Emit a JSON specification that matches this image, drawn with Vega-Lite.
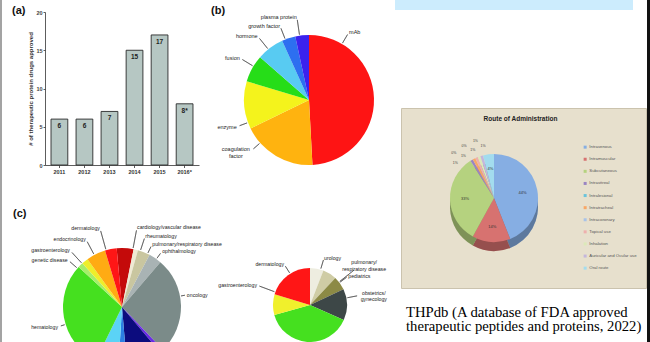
{
"$schema":"https://vega.github.io/schema/vega-lite/v6.json",
"padding":0,
"background":"#ffffff",
"config":{"view":{"stroke":null},"font":"Liberation Sans"},
"spacing":0,
"resolve":{"scale":{"theta":"independent","color":"independent"},"legend":{"color":"independent"}},
"hconcat":[
{"width":2,"height":342,"data":{"values":[{}]},"mark":{"type":"rect","color":"#a3a3a3"},"encoding":{}},
{"spacing":0,
 "resolve":{"scale":{"theta":"independent","color":"independent"},"legend":{"color":"independent"}},
 "vconcat":[
 {"spacing":0,
  "resolve":{"scale":{"theta":"independent","color":"independent"},"legend":{"color":"independent"}},
  "hconcat":[
  {"width":25,"height":187,"title":{"text":"(a)","anchor":"start","frame":"group","offset":0,"dx":10,"dy":16,"fontSize":11,"fontWeight":"bold","color":"#111"},"data":{"values":[{}]},"mark":{"type":"rect","opacity":0},"encoding":{}},
  {"spacing":0,
   "vconcat":[
   {"width":154,"height":10,"data":{"values":[{}]},"mark":{"type":"rect","opacity":0},"encoding":{}},
   {"width":154,"height":153,
    "data":{"values":[
     {"year":"2011","count":6,"label":"6"},
     {"year":"2012","count":6,"label":"6"},
     {"year":"2013","count":7,"label":"7"},
     {"year":"2014","count":15,"label":"15"},
     {"year":"2015","count":17,"label":"17"},
     {"year":"2016*","count":8,"label":"8*"}]},
    "encoding":{
     "x":{"field":"year","type":"ordinal","sort":null,"scale":{"paddingInner":0.33,"paddingOuter":0.24},
      "axis":{"title":null,"labelAngle":0,"labelFontSize":5.5,"labelFontWeight":"bold","labelColor":"#333","tickSize":2.5,"tickColor":"#333","domainColor":"#333","labelPadding":1.5,"domainWidth":0.8,"tickWidth":0.8}},
     "y":{"field":"count","type":"quantitative","scale":{"domain":[0,20]},
      "axis":{"values":[0,5,10,15,20],"title":"# of therapeutic protein drugs approved","titleFontSize":6,"titleFontWeight":"bold","titleColor":"#333","titlePadding":2,"labelFontSize":5.5,"labelFontWeight":"bold","labelColor":"#444","tickSize":2,"labelPadding":1,"grid":false,"domainColor":"#333","tickColor":"#333","domainWidth":0.8,"tickWidth":0.8}}},
    "layer":[
     {"mark":{"type":"bar","fill":"#b6c7c3","stroke":"#2a2a2a","strokeWidth":0.9}},
     {"mark":{"type":"text","dy":7,"baseline":"middle","fontSize":6.5,"fontWeight":"bold","color":"#222"},"encoding":{"text":{"field":"label"}}}
    ]}
   ]},
  {"width":8,"height":1,"data":{"values":[{}]},"mark":{"type":"rect","opacity":0},"encoding":{}},
  {"width":167,"height":187,
   "title":{"text":"(b)","anchor":"start","frame":"group","offset":0,"dx":4,"dy":16,"fontSize":11,"fontWeight":"bold","color":"#111"},
   "data":{"values":[
    {"cat":"mAb","n":29},{"cat":"coagulation factor","n":11},{"cat":"enzyme","n":7},{"cat":"fusion","n":4},{"cat":"hormone","n":4},{"cat":"growth factor","n":2},{"cat":"plasma protein","n":2}]},
   "transform":[{"window":[{"op":"row_number","as":"k"}]},{"stack":"n","groupby":[],"sort":[{"field":"k","order":"ascending"}],"as":["n0","n1"]}],
   "encoding":{"theta":{"field":"n","type":"quantitative","stack":true},"order":{"field":"k","type":"quantitative"}},
   "layer":[
    {"mark":{"type":"arc","outerRadius":65,"xOffset":18.5,"yOffset":6.5},"encoding":{"color":{"field":"cat","type":"nominal","scale":{"domain":["mAb","coagulation factor","enzyme","fusion","hormone","growth factor","plasma protein"],"range":["#fe1414","#ffb30f","#f4f31c","#26dd18","#58cbf2","#2d6ff0","#3b22ee"]},"legend":null}}},
    {"mark":{"type":"arc","innerRadius":66,"outerRadius":76,"thetaOffset":0.532,"theta2Offset":0.532,"xOffset":18.5,"yOffset":6.5,"fillOpacity":0,"stroke":"#333","strokeWidth":0.5},"encoding":{"theta":{"field":"n0","type":"quantitative"},"theta2":{"field":"n0"},"strokeOpacity":{"condition":{"test":"datum.cat==='mAb'","value":1},"value":0}}},
    {"mark":{"type":"arc","innerRadius":66,"outerRadius":74,"thetaOffset":0.903,"theta2Offset":0.903,"xOffset":18.5,"yOffset":6.5,"fillOpacity":0,"stroke":"#333","strokeWidth":0.5},"encoding":{"theta":{"field":"n0","type":"quantitative"},"theta2":{"field":"n0"},"strokeOpacity":{"condition":{"test":"datum.cat==='coagulation factor'","value":1},"value":0}}},
    {"mark":{"type":"arc","innerRadius":66,"outerRadius":74,"thetaOffset":0.098,"theta2Offset":0.098,"xOffset":18.5,"yOffset":6.5,"fillOpacity":0,"stroke":"#333","strokeWidth":0.5},"encoding":{"theta":{"field":"n0","type":"quantitative"},"theta2":{"field":"n0"},"strokeOpacity":{"condition":{"test":"datum.cat==='enzyme'","value":1},"value":0}}},
    {"mark":{"type":"arc","innerRadius":66,"outerRadius":78,"thetaOffset":0.253,"theta2Offset":0.253,"xOffset":18.5,"yOffset":6.5,"fillOpacity":0,"stroke":"#333","strokeWidth":0.5},"encoding":{"theta":{"field":"n0","type":"quantitative"},"theta2":{"field":"n0"},"strokeOpacity":{"condition":{"test":"datum.cat==='fusion'","value":1},"value":0}}},
    {"mark":{"type":"arc","innerRadius":66,"outerRadius":79,"thetaOffset":0.175,"theta2Offset":0.175,"xOffset":18.5,"yOffset":6.5,"fillOpacity":0,"stroke":"#333","strokeWidth":0.5},"encoding":{"theta":{"field":"n0","type":"quantitative"},"theta2":{"field":"n0"},"strokeOpacity":{"condition":{"test":"datum.cat==='hormone'","value":1},"value":0}}},
    {"mark":{"type":"arc","innerRadius":66,"outerRadius":77,"thetaOffset":0.053,"theta2Offset":0.053,"xOffset":18.5,"yOffset":6.5,"fillOpacity":0,"stroke":"#333","strokeWidth":0.5},"encoding":{"theta":{"field":"n0","type":"quantitative"},"theta2":{"field":"n0"},"strokeOpacity":{"condition":{"test":"datum.cat==='growth factor'","value":1},"value":0}}},
    {"mark":{"type":"arc","innerRadius":66,"outerRadius":81,"thetaOffset":0.068,"theta2Offset":0.068,"xOffset":18.5,"yOffset":6.5,"fillOpacity":0,"stroke":"#333","strokeWidth":0.5},"encoding":{"theta":{"field":"n0","type":"quantitative"},"theta2":{"field":"n0"},"strokeOpacity":{"condition":{"test":"datum.cat==='plasma protein'","value":1},"value":0}}},
    {"mark":{"type":"text","radius":79,"thetaOffset":-1.012,"xOffset":18.5,"yOffset":6.5,"align":"left","baseline":"middle","fontSize":5.5,"color":"#222"},"encoding":{"text":{"condition":{"test":"datum.cat==='mAb'","value":"mAb"},"value":""}}},
    {"mark":{"type":"text","radius":88,"thetaOffset":0.449,"xOffset":18.5,"yOffset":6.5,"align":"center","baseline":"middle","fontSize":5.5,"lineHeight":7,"color":"#222"},"encoding":{"text":{"condition":{"test":"datum.cat==='coagulation factor'","value":["coagulation","factor"]},"value":""}}},
    {"mark":{"type":"text","radius":77,"thetaOffset":-0.274,"xOffset":18.5,"yOffset":6.5,"align":"right","baseline":"middle","fontSize":5.5,"color":"#222"},"encoding":{"text":{"condition":{"test":"datum.cat==='enzyme'","value":"enzyme"},"value":""}}},
    {"mark":{"type":"text","radius":81,"thetaOffset":0.04,"xOffset":18.5,"yOffset":6.5,"align":"right","baseline":"middle","fontSize":5.5,"color":"#222"},"encoding":{"text":{"condition":{"test":"datum.cat==='fusion'","value":"fusion"},"value":""}}},
    {"mark":{"type":"text","radius":82,"thetaOffset":-0.038,"xOffset":18.5,"yOffset":6.5,"align":"right","baseline":"middle","fontSize":5.5,"color":"#222"},"encoding":{"text":{"condition":{"test":"datum.cat==='hormone'","value":"hormone"},"value":""}}},
    {"mark":{"type":"text","radius":79.5,"thetaOffset":-0.054,"xOffset":18.5,"yOffset":6.5,"align":"right","baseline":"middle","fontSize":5.5,"color":"#222"},"encoding":{"text":{"condition":{"test":"datum.cat==='growth factor'","value":"growth factor"},"value":""}}},
    {"mark":{"type":"text","radius":84,"thetaOffset":-0.038,"xOffset":18.5,"yOffset":6.5,"align":"right","baseline":"middle","fontSize":5.5,"color":"#222"},"encoding":{"text":{"condition":{"test":"datum.cat==='plasma protein'","value":"plasma protein"},"value":""}}}
   ]}
  ]},
 {"width":393,"height":155,
  "title":{"text":"(c)","anchor":"start","frame":"group","offset":0,"dx":11,"dy":32,"fontSize":11,"fontWeight":"bold","color":"#111"},
  "resolve":{"scale":{"theta":"independent","color":"independent"}},
  "layer":[
   {"data":{"values":[
     {"area":"cardiology/vascular disease","p":4.6},
     {"area":"rheumatology","p":1.2},
     {"area":"pulmonary/respiratory disease","p":3.4},
     {"area":"ophthalmology","p":3.5},
     {"area":"oncology","p":26.6},
     {"area":"neurology","p":1.0},
     {"area":"infectious disease","p":9.8},
     {"area":"immunology","p":2.3},
     {"area":"nephrology","p":6.3},
     {"area":"hematology","p":29.6},
     {"area":"genetic disease","p":1.4},
     {"area":"gastroenterology","p":1.8},
     {"area":"endocrinology","p":5.3},
     {"area":"dermatology","p":3.2}]},
    "transform":[{"window":[{"op":"row_number","as":"k"}]},{"stack":"p","groupby":[],"sort":[{"field":"k","order":"ascending"}],"as":["p0","p1"]}],
    "encoding":{"theta":{"field":"p","type":"quantitative","stack":true,"scale":{"range":[-0.0908,6.1924]}},"order":{"field":"k","type":"quantitative"}},
    "layer":[
     {"mark":{"type":"arc","outerRadius":59,"xOffset":-76.5,"yOffset":42.5,"clip":true},"encoding":{"color":{"field":"area","type":"nominal","scale":{"domain":["cardiology/vascular disease","rheumatology","pulmonary/respiratory disease","ophthalmology","oncology","neurology","infectious disease","immunology","nephrology","hematology","genetic disease","gastroenterology","endocrinology","dermatology"],"range":["#c40a0a","#efe9d3","#c9c6a0","#a9b3b4","#7b8b89","#6a2ae6","#0c0c7e","#2b7fe3","#5bd3f6","#45e01f","#a6ee6a","#eeee2a","#ffab13","#ff1616"]},"legend":null}}},
     {"mark":{"type":"arc","innerRadius":60,"outerRadius":78,"thetaOffset":0.2775,"theta2Offset":0.2775,"xOffset":-76.5,"yOffset":42.5,"clip":true,"fillOpacity":0,"stroke":"#333","strokeWidth":0.5},"encoding":{"theta":{"field":"p0","type":"quantitative"},"theta2":{"field":"p0"},"strokeOpacity":{"condition":{"test":"datum.area==='cardiology/vascular disease'","value":1},"value":0}}},
     {"mark":{"type":"arc","innerRadius":60,"outerRadius":72,"thetaOffset":0.1176,"theta2Offset":0.1176,"xOffset":-76.5,"yOffset":42.5,"clip":true,"fillOpacity":0,"stroke":"#333","strokeWidth":0.5},"encoding":{"theta":{"field":"p0","type":"quantitative"},"theta2":{"field":"p0"},"strokeOpacity":{"condition":{"test":"datum.area==='rheumatology'","value":1},"value":0}}},
     {"mark":{"type":"arc","innerRadius":60,"outerRadius":67,"thetaOffset":0.1738,"theta2Offset":0.1738,"xOffset":-76.5,"yOffset":42.5,"clip":true,"fillOpacity":0,"stroke":"#333","strokeWidth":0.5},"encoding":{"theta":{"field":"p0","type":"quantitative"},"theta2":{"field":"p0"},"strokeOpacity":{"condition":{"test":"datum.area==='pulmonary/respiratory disease'","value":1},"value":0}}},
     {"mark":{"type":"arc","innerRadius":60,"outerRadius":66,"thetaOffset":0.135,"theta2Offset":0.135,"xOffset":-76.5,"yOffset":42.5,"clip":true,"fillOpacity":0,"stroke":"#333","strokeWidth":0.5},"encoding":{"theta":{"field":"p0","type":"quantitative"},"theta2":{"field":"p0"},"strokeOpacity":{"condition":{"test":"datum.area==='ophthalmology'","value":1},"value":0}}},
     {"mark":{"type":"arc","innerRadius":60,"outerRadius":64,"thetaOffset":0.6786,"theta2Offset":0.6786,"xOffset":-76.5,"yOffset":42.5,"clip":true,"fillOpacity":0,"stroke":"#333","strokeWidth":0.5},"encoding":{"theta":{"field":"p0","type":"quantitative"},"theta2":{"field":"p0"},"strokeOpacity":{"condition":{"test":"datum.area==='oncology'","value":1},"value":0}}},
     {"mark":{"type":"arc","innerRadius":60,"outerRadius":79,"thetaOffset":0.0185,"theta2Offset":0.0185,"xOffset":-76.5,"yOffset":42.5,"clip":true,"fillOpacity":0,"stroke":"#333","strokeWidth":0.5},"encoding":{"theta":{"field":"p0","type":"quantitative"},"theta2":{"field":"p0"},"strokeOpacity":{"condition":{"test":"datum.area==='dermatology'","value":1},"value":0}}},
     {"mark":{"type":"arc","innerRadius":60,"outerRadius":74,"thetaOffset":0.1354,"theta2Offset":0.1354,"xOffset":-76.5,"yOffset":42.5,"clip":true,"fillOpacity":0,"stroke":"#333","strokeWidth":0.5},"encoding":{"theta":{"field":"p0","type":"quantitative"},"theta2":{"field":"p0"},"strokeOpacity":{"condition":{"test":"datum.area==='endocrinology'","value":1},"value":0}}},
     {"mark":{"type":"arc","innerRadius":60,"outerRadius":74,"thetaOffset":-0.0045,"theta2Offset":-0.0045,"xOffset":-76.5,"yOffset":42.5,"clip":true,"fillOpacity":0,"stroke":"#333","strokeWidth":0.5},"encoding":{"theta":{"field":"p0","type":"quantitative"},"theta2":{"field":"p0"},"strokeOpacity":{"condition":{"test":"datum.area==='gastroenterology'","value":1},"value":0}}},
     {"mark":{"type":"arc","innerRadius":60,"outerRadius":69,"thetaOffset":-0.0293,"theta2Offset":-0.0293,"xOffset":-76.5,"yOffset":42.5,"clip":true,"fillOpacity":0,"stroke":"#333","strokeWidth":0.5},"encoding":{"theta":{"field":"p0","type":"quantitative"},"theta2":{"field":"p0"},"strokeOpacity":{"condition":{"test":"datum.area==='genetic disease'","value":1},"value":0}}},
     {"mark":{"type":"arc","innerRadius":60,"outerRadius":64,"thetaOffset":0.815,"theta2Offset":0.815,"xOffset":-76.5,"yOffset":42.5,"clip":true,"fillOpacity":0,"stroke":"#333","strokeWidth":0.5},"encoding":{"theta":{"field":"p0","type":"quantitative"},"theta2":{"field":"p0"},"strokeOpacity":{"condition":{"test":"datum.area==='hematology'","value":1},"value":0}}},
     {"mark":{"type":"text","radius":81,"thetaOffset":0.133,"align":"left","baseline":"middle","fontSize":5.2,"color":"#222","xOffset":-76.5,"yOffset":42.5,"clip":true},"encoding":{"text":{"condition":{"test":"datum.area==='cardiology/vascular disease'","value":"cardiology/vascular disease"},"value":""}}},
     {"mark":{"type":"text","radius":75,"thetaOffset":0.08,"align":"left","baseline":"middle","fontSize":5.2,"color":"#222","xOffset":-76.5,"yOffset":42.5,"clip":true},"encoding":{"text":{"condition":{"test":"datum.area==='rheumatology'","value":"rheumatology"},"value":""}}},
     {"mark":{"type":"text","radius":70,"thetaOffset":0.067,"align":"left","baseline":"middle","fontSize":5.2,"color":"#222","xOffset":-76.5,"yOffset":42.5,"clip":true},"encoding":{"text":{"condition":{"test":"datum.area==='pulmonary/respiratory disease'","value":"pulmonary/respiratory disease"},"value":""}}},
     {"mark":{"type":"text","radius":69,"thetaOffset":0.025,"align":"left","baseline":"middle","fontSize":5.2,"color":"#222","xOffset":-76.5,"yOffset":42.5,"clip":true},"encoding":{"text":{"condition":{"test":"datum.area==='ophthalmology'","value":"ophthalmology"},"value":""}}},
     {"mark":{"type":"text","radius":66,"thetaOffset":-0.157,"align":"left","baseline":"middle","fontSize":5.2,"color":"#222","xOffset":-76.5,"yOffset":42.5,"clip":true},"encoding":{"text":{"condition":{"test":"datum.area==='oncology'","value":"oncology"},"value":""}}},
     {"mark":{"type":"text","radius":82,"thetaOffset":-0.082,"align":"right","baseline":"middle","fontSize":5.2,"color":"#222","xOffset":-76.5,"yOffset":42.5,"clip":true},"encoding":{"text":{"condition":{"test":"datum.area==='dermatology'","value":"dermatology"},"value":""}}},
     {"mark":{"type":"text","radius":77,"thetaOffset":-0.031,"align":"right","baseline":"middle","fontSize":5.2,"color":"#222","xOffset":-76.5,"yOffset":42.5,"clip":true},"encoding":{"text":{"condition":{"test":"datum.area==='endocrinology'","value":"endocrinology"},"value":""}}},
     {"mark":{"type":"text","radius":77,"thetaOffset":-0.061,"align":"right","baseline":"middle","fontSize":5.2,"color":"#222","xOffset":-76.5,"yOffset":42.5,"clip":true},"encoding":{"text":{"condition":{"test":"datum.area==='gastroenterology'","value":"gastroenterology"},"value":""}}},
     {"mark":{"type":"text","radius":72,"thetaOffset":-0.073,"align":"right","baseline":"middle","fontSize":5.2,"color":"#222","xOffset":-76.5,"yOffset":42.5,"clip":true},"encoding":{"text":{"condition":{"test":"datum.area==='genetic disease'","value":"genetic disease"},"value":""}}},
     {"mark":{"type":"text","radius":67,"thetaOffset":-0.115,"align":"right","baseline":"middle","fontSize":5.2,"color":"#222","xOffset":-76.5,"yOffset":42.5,"clip":true},"encoding":{"text":{"condition":{"test":"datum.area==='hematology'","value":"hematology"},"value":""}}}
    ]},
   {"data":{"values":[
     {"area":"urology","p":5.9},
     {"area":"pulmonary/respiratory disease","p":6.1},
     {"area":"pediatrics","p":6.0},
     {"area":"obstetrics/gynecology","p":13.7},
     {"area":"hematology","p":39.0},
     {"area":"gastroenterology","p":9.0},
     {"area":"dermatology","p":20.3}]},
    "transform":[{"window":[{"op":"row_number","as":"k"}]},{"stack":"p","groupby":[],"sort":[{"field":"k","order":"ascending"}],"as":["p0","p1"]}],
    "encoding":{"theta":{"field":"p","type":"quantitative","stack":true},"order":{"field":"k","type":"quantitative"}},
    "layer":[
     {"mark":{"type":"arc","outerRadius":37,"xOffset":111.5,"yOffset":40.5,"clip":true},"encoding":{"color":{"field":"area","type":"nominal","scale":{"domain":["urology","pulmonary/respiratory disease","pediatrics","obstetrics/gynecology","hematology","gastroenterology","dermatology"],"range":["#eeede0","#cfcca5","#8c8a45","#3d4747","#45e01f","#f0f02c","#ff1616"]},"legend":null}}},
     {"mark":{"type":"arc","innerRadius":38,"outerRadius":46,"thetaOffset":0.71,"theta2Offset":0.71,"xOffset":111.5,"yOffset":40.5,"clip":true,"fillOpacity":0,"stroke":"#333","strokeWidth":0.5},"encoding":{"theta":{"field":"p0","type":"quantitative"},"theta2":{"field":"p0"},"strokeOpacity":{"condition":{"test":"datum.area==='dermatology'","value":1},"value":0}}},
     {"mark":{"type":"arc","innerRadius":38,"outerRadius":54,"thetaOffset":0.628,"theta2Offset":0.628,"xOffset":111.5,"yOffset":40.5,"clip":true,"fillOpacity":0,"stroke":"#333","strokeWidth":0.5},"encoding":{"theta":{"field":"p0","type":"quantitative"},"theta2":{"field":"p0"},"strokeOpacity":{"condition":{"test":"datum.area==='gastroenterology'","value":1},"value":0}}},
     {"mark":{"type":"arc","innerRadius":38,"outerRadius":47,"thetaOffset":0.29,"theta2Offset":0.29,"xOffset":111.5,"yOffset":40.5,"clip":true,"fillOpacity":0,"stroke":"#333","strokeWidth":0.5},"encoding":{"theta":{"field":"p0","type":"quantitative"},"theta2":{"field":"p0"},"strokeOpacity":{"condition":{"test":"datum.area==='urology'","value":1},"value":0}}},
     {"mark":{"type":"arc","innerRadius":38,"outerRadius":56,"thetaOffset":0.53,"theta2Offset":0.53,"xOffset":111.5,"yOffset":40.5,"clip":true,"fillOpacity":0,"stroke":"#333","strokeWidth":0.5},"encoding":{"theta":{"field":"p0","type":"quantitative"},"theta2":{"field":"p0"},"strokeOpacity":{"condition":{"test":"datum.area==='pulmonary/respiratory disease'","value":1},"value":0}}},
     {"mark":{"type":"arc","innerRadius":38,"outerRadius":46,"thetaOffset":0.168,"theta2Offset":0.168,"xOffset":111.5,"yOffset":40.5,"clip":true,"fillOpacity":0,"stroke":"#333","strokeWidth":0.5},"encoding":{"theta":{"field":"p0","type":"quantitative"},"theta2":{"field":"p0"},"strokeOpacity":{"condition":{"test":"datum.area==='pediatrics'","value":1},"value":0}}},
     {"mark":{"type":"arc","innerRadius":38,"outerRadius":48,"thetaOffset":0.248,"theta2Offset":0.248,"xOffset":111.5,"yOffset":40.5,"clip":true,"fillOpacity":0,"stroke":"#333","strokeWidth":0.5},"encoding":{"theta":{"field":"p0","type":"quantitative"},"theta2":{"field":"p0"},"strokeOpacity":{"condition":{"test":"datum.area==='obstetrics/gynecology'","value":1},"value":0}}},
     {"mark":{"type":"text","radius":48.5,"thetaOffset":0.072,"align":"right","baseline":"middle","fontSize":5.2,"color":"#222","xOffset":111.5,"yOffset":40.5,"clip":true},"encoding":{"text":{"condition":{"test":"datum.area==='dermatology'","value":"dermatology"},"value":""}}},
     {"mark":{"type":"text","radius":56.6,"thetaOffset":0.346,"align":"right","baseline":"middle","fontSize":5.2,"color":"#222","xOffset":111.5,"yOffset":40.5,"clip":true},"encoding":{"text":{"condition":{"test":"datum.area==='gastroenterology'","value":"gastroenterology"},"value":""}}},
     {"mark":{"type":"text","radius":49,"thetaOffset":0.105,"align":"left","baseline":"middle","fontSize":5.2,"color":"#222","xOffset":111.5,"yOffset":40.5,"clip":true},"encoding":{"text":{"condition":{"test":"datum.area==='urology'","value":"urology"},"value":""}}},
     {"mark":{"type":"text","radius":69,"thetaOffset":0.339,"align":"center","baseline":"middle","fontSize":5.2,"lineHeight":6.5,"color":"#222","xOffset":111.5,"yOffset":40.5,"clip":true},"encoding":{"text":{"condition":{"test":"datum.area==='pulmonary/respiratory disease'","value":["pulmonary/","respiratory disease"]},"value":""}}},
     {"mark":{"type":"text","radius":48,"thetaOffset":-0.02,"align":"left","baseline":"middle","fontSize":5.2,"color":"#222","xOffset":111.5,"yOffset":40.5,"clip":true},"encoding":{"text":{"condition":{"test":"datum.area==='pediatrics'","value":"pediatrics"},"value":""}}},
     {"mark":{"type":"text","radius":65,"thetaOffset":-0.182,"align":"center","baseline":"middle","fontSize":5.2,"lineHeight":6.5,"color":"#222","xOffset":111.5,"yOffset":40.5,"clip":true},"encoding":{"text":{"condition":{"test":"datum.area==='obstetrics/gynecology'","value":["obstetrics/","gynecology"]},"value":""}}}
    ]}
  ]}
 ]},
{"spacing":0,
 "resolve":{"scale":{"theta":"independent","color":"independent"},"legend":{"color":"independent"}},
 "vconcat":[
 {"width":238,"height":10,"data":{"values":[{}]},"mark":{"type":"rect","color":"#ccecfd"},"encoding":{}},
 {"width":1,"height":97,"data":{"values":[{}]},"mark":{"type":"rect","opacity":0},"encoding":{}},
 {"spacing":0,
  "resolve":{"scale":{"theta":"independent","color":"independent"},"legend":{"color":"independent"}},
  "hconcat":[
  {"width":5,"height":1,"data":{"values":[{}]},"mark":{"type":"rect","opacity":0},"encoding":{}},
  {"width":245,"height":180,
   "view":{"fill":"#e7e0cd","stroke":"#cbc3ae"},
   "title":{"text":"Route of Administration","anchor":"middle","frame":"group","offset":0,"dy":14,"dx":-3,"fontSize":6.5,"fontWeight":"bold","color":"#222"},
   "data":{"values":[
    {"cat":"Intravenous","share":44,"label":"44%"},
    {"cat":"Intramuscular","share":14,"label":"14%"},
    {"cat":"Subcutaneous","share":33,"label":"33%"},
    {"cat":"Intravitreal","share":1,"label":"1%"},
    {"cat":"Intralesional","share":0,"label":"0%"},
    {"cat":"Intratracheal","share":1,"label":"1%"},
    {"cat":"Intracoronary","share":0,"label":"0%"},
    {"cat":"Topical use","share":1,"label":"1%"},
    {"cat":"Inhalation","share":1,"label":"1%"},
    {"cat":"Auricular and Ocular use","share":1,"label":"1%"},
    {"cat":"Oral route","share":4,"label":"4%"}]},
   "transform":[{"window":[{"op":"row_number","as":"k"}]}],
   "encoding":{"theta":{"field":"share","type":"quantitative","stack":true},"order":{"field":"k","type":"quantitative"}},
   "layer":[
    {"mark":{"type":"arc","outerRadius":44,"xOffset":-29.5,"yOffset":9},"encoding":{"color":{"field":"cat","type":"nominal","scale":{"domain":["Intravenous","Intramuscular","Subcutaneous","Intravitreal","Intralesional","Intratracheal","Intracoronary","Topical use","Inhalation","Auricular and Ocular use","Oral route"],"range":["#86aee3","#d77270","#b5d27f","#9a84c2","#6ac3db","#f8a766","#a8c3e8","#eeb0ae","#dce9b9","#c4b6dc","#a3dcee"]},"legend":{"orient":"none","legendX":182,"legendY":37,"title":null,"symbolType":"square","symbolSize":9,"symbolStrokeWidth":0,"labelFontSize":4.3,"labelColor":"#555","rowPadding":7.1,"padding":0,"labelOffset":2,"labelLimit":200}}}},
    {"mark":{"type":"arc","outerRadius":44,"xOffset":-29.5,"yOffset":9,"fill":"#000000","opacity":0.3}},
    {"mark":{"type":"arc","outerRadius":44,"xOffset":-29.5},"encoding":{"color":{"field":"cat","type":"nominal"}}},
    {"mark":{"type":"text","radius":29,"xOffset":-29.5,"fontSize":4,"color":"#333","baseline":"middle"},"encoding":{"text":{"condition":{"test":"datum.share>=4","field":"label"},"value":""}}},
    {"mark":{"type":"text","radius":52,"thetaOffset":-0.304,"xOffset":-29.5,"fontSize":3.5,"color":"#444","baseline":"middle"},"encoding":{"text":{"condition":{"test":"datum.cat==='Intravitreal'","field":"label"},"value":""}}},
    {"mark":{"type":"text","radius":60,"thetaOffset":-0.23,"xOffset":-29.5,"fontSize":3.5,"color":"#444","baseline":"middle"},"encoding":{"text":{"condition":{"test":"datum.cat==='Intralesional'","field":"label"},"value":""}}},
    {"mark":{"type":"text","radius":52,"thetaOffset":-0.157,"xOffset":-29.5,"fontSize":3.5,"color":"#444","baseline":"middle"},"encoding":{"text":{"condition":{"test":"datum.cat==='Intratracheal'","field":"label"},"value":""}}},
    {"mark":{"type":"text","radius":60,"thetaOffset":-0.084,"xOffset":-29.5,"fontSize":3.5,"color":"#444","baseline":"middle"},"encoding":{"text":{"condition":{"test":"datum.cat==='Intracoronary'","field":"label"},"value":""}}},
    {"mark":{"type":"text","radius":52,"thetaOffset":-0.01,"xOffset":-29.5,"fontSize":3.5,"color":"#444","baseline":"middle"},"encoding":{"text":{"condition":{"test":"datum.cat==='Topical use'","field":"label"},"value":""}}},
    {"mark":{"type":"text","radius":60,"thetaOffset":0.031,"xOffset":-29.5,"fontSize":3.5,"color":"#444","baseline":"middle"},"encoding":{"text":{"condition":{"test":"datum.cat==='Inhalation'","field":"label"},"value":""}}},
    {"mark":{"type":"text","radius":53,"thetaOffset":0.073,"xOffset":-29.5,"fontSize":3.5,"color":"#444","baseline":"middle"},"encoding":{"text":{"condition":{"test":"datum.cat==='Auricular and Ocular use'","field":"label"},"value":""}}}
   ]}
  ]},
 {"width":252,"height":55,
  "title":{"text":["THPdb (A database of FDA approved","therapeutic peptides and proteins, 2022)"],"anchor":"start","frame":"group","offset":0,"dx":11,"dy":45,"font":"Liberation Serif","fontSize":14.7,"fontWeight":"normal","color":"#000000","lineHeight":14.7},
  "data":{"values":[{}]},"mark":{"type":"rect","opacity":0},"encoding":{}}
 ]},
{"width":3,"height":342,"data":{"values":[{}]},"mark":{"type":"rect","color":"#121212"},"encoding":{}}
]
}
